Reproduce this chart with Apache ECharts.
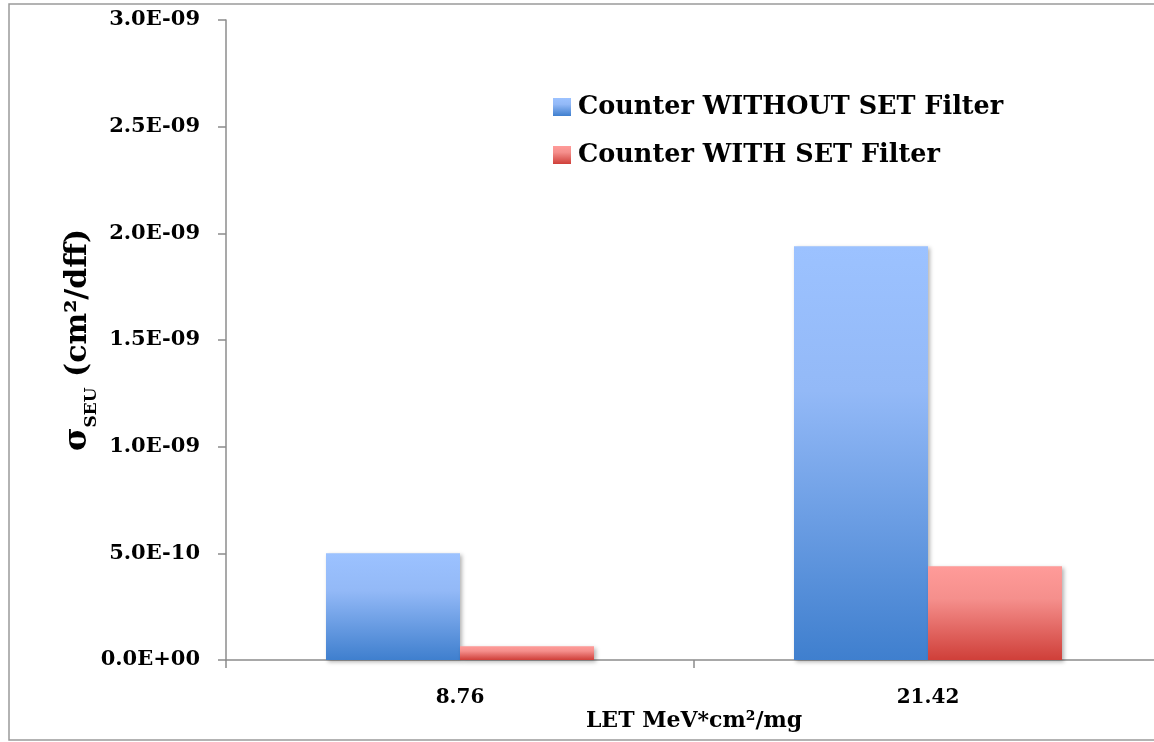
<!DOCTYPE html>
<html>
<head>
<meta charset="utf-8">
<title>SEU cross section</title>
<script src="https://cdn.jsdelivr.net/npm/echarts@6/dist/echarts.min.js"></script>
<style>
	html, body { margin: 0; padding: 0; background: #ffffff; }
	#chart { width: 1154px; height: 742px; }
</style>
</head>
<body>
<div id="chart"></div>
<script>
// 数据
var categories = ["8.76", "21.42"];
var withoutFilter = [5.0e-10, 1.94e-9];
var withFilter = [6.5e-11, 4.4e-10];
var seriesNames = ["Counter WITHOUT SET Filter", "Counter WITH SET Filter"];

var fontName = "DejaVu Serif";

function sciLabel(v) {
	var s = v.toExponential(1).split("e");
	var exp = parseInt(s[1], 10);
	var sign = exp < 0 ? "-" : "+";
	var e = Math.abs(exp);
	return s[0] + "E" + sign + (e < 10 ? "0" + e : e);
}

function vGrad(top, mid, bottom) {
	return new echarts.graphic.LinearGradient(0, 0, 0, 1, [
		{ offset: 0, color: top },
		{ offset: 0.35, color: mid },
		{ offset: 1, color: bottom }
	]);
}

var myChart = echarts.init(document.getElementById("chart"));

var barShadow = {
	shadowBlur: 4,
	shadowColor: "rgba(0,0,0,0.3)",
	shadowOffsetX: 2,
	shadowOffsetY: 2
};

var option = {
	backgroundColor: "#ffffff",
	animation: false,
	textStyle: { fontFamily: fontName, fontWeight: "bold", color: "#000" },
	graphic: [{
		type: "rect",
		shape: { x: 9, y: 4, width: 1170, height: 736 },
		style: { fill: "none", stroke: "#9a9a9a", lineWidth: 1.5 },
		silent: true
	}],
	grid: {
		left: 226,
		right: -8,
		top: 20,
		bottom: 82,
		containLabel: false,
		outerBoundsMode: "none"
	},
	legend: {
		orient: "vertical",
		left: 553,
		top: 94,
		padding: 0,
		itemWidth: 18,
		itemHeight: 18,
		itemGap: 22,
		icon: "rect",
		textStyle: { fontFamily: fontName, fontWeight: "bold", fontSize: 25.5, color: "#000", padding: [0, 0, 0, 2] },
		data: seriesNames
	},
	xAxis: [{
		type: "category",
		data: categories,
		name: "LET MeV*cm²/mg",
		nameLocation: "middle",
		nameGap: 50,
		nameMoveOverlap: false,
		nameTextStyle: { fontFamily: fontName, fontWeight: "bold", fontSize: 22, color: "#000" },
		axisLine: { lineStyle: { color: "#8c8c8c", width: 1.5 } },
		axisTick: { show: true, length: 8, lineStyle: { color: "#8c8c8c", width: 1.5 } },
		axisLabel: { margin: 28, fontFamily: fontName, fontWeight: "bold", fontSize: 20, color: "#000" },
		splitLine: { show: false }
	}],
	yAxis: [{
		type: "value",
		min: 0,
		max: 3e-9,
		interval: 5e-10,
		name: "{sig|σ}{sub|SEU}{main| (cm²/dff)}",
		nameLocation: "middle",
		nameGap: 126,
		nameRotate: 90,
		nameMoveOverlap: false,
		nameTextStyle: {
			rich: {
				sig: { fontFamily: fontName, fontWeight: "bold", fontSize: 32, color: "#000", lineHeight: 44, verticalAlign: "middle" },
				sub: { fontFamily: fontName, fontWeight: "bold", fontSize: 17, color: "#000", lineHeight: 18, verticalAlign: "bottom" },
				main: { fontFamily: fontName, fontWeight: "bold", fontSize: 30, color: "#000", lineHeight: 44, verticalAlign: "middle" }
			}
		},
		axisLine: { show: true, lineStyle: { color: "#8c8c8c", width: 1.5 } },
		axisTick: { show: true, length: 8, lineStyle: { color: "#8c8c8c", width: 1.5 } },
		axisLabel: {
			margin: 26,
			fontFamily: fontName, fontWeight: "bold", fontSize: 21, color: "#000",
			formatter: sciLabel
		},
		splitLine: { show: false }
	}],
	series: [{
		name: seriesNames[0],
		type: "bar",
		barWidth: 134,
		barGap: "0%",
		data: withoutFilter,
		itemStyle: Object.assign({ color: vGrad("#9cc2ff", "#93b9f7", "#3f7fce") }, barShadow)
	}, {
		name: seriesNames[1],
		type: "bar",
		barWidth: 134,
		barGap: "0%",
		data: withFilter,
		itemStyle: Object.assign({ color: vGrad("#ff9b99", "#f58f8c", "#cf3f39") }, barShadow)
	}]
};

myChart.setOption(option);
window.addEventListener("resize", function() {
	myChart.resize();
});
</script>
</body>
</html>
